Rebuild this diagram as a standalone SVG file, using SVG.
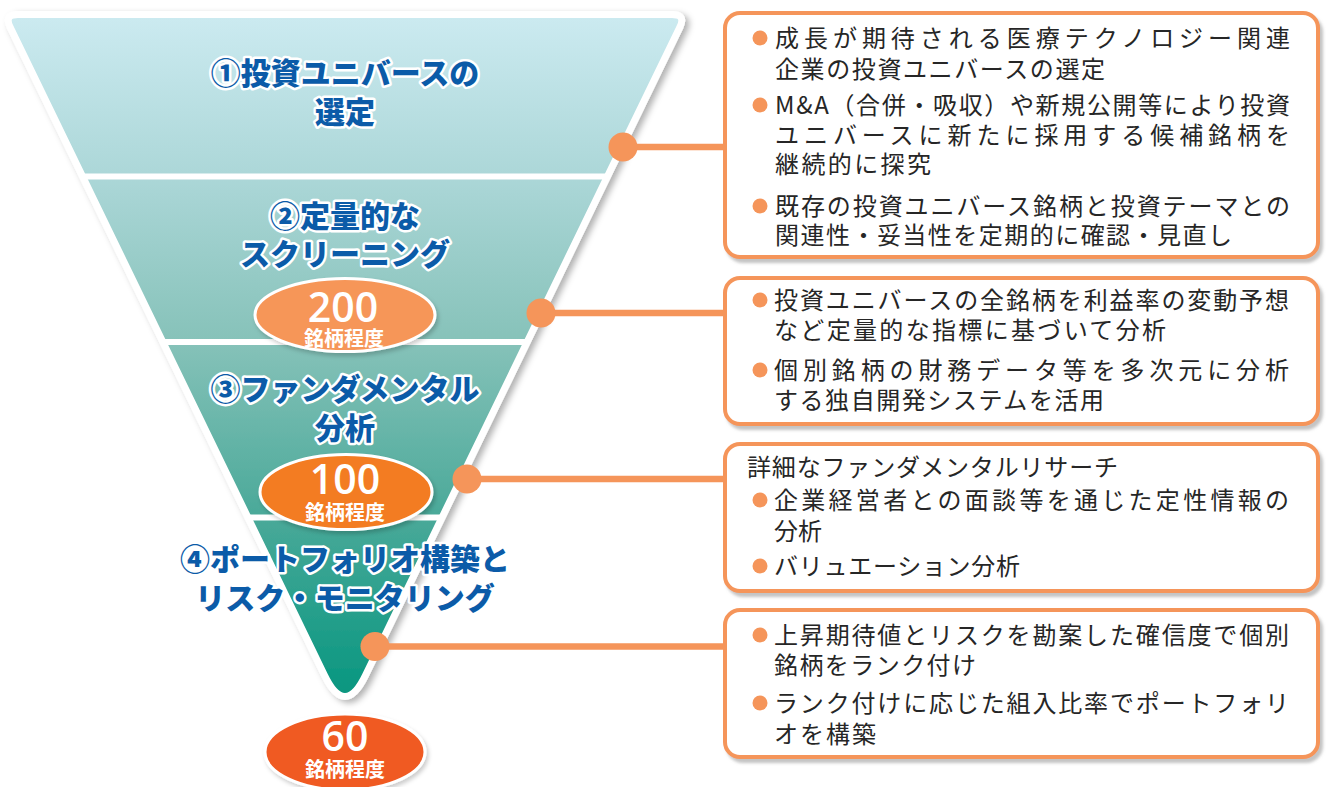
<svg xmlns="http://www.w3.org/2000/svg" width="1328" height="787" viewBox="0 0 1328 787">
<defs>
<linearGradient id="fg" gradientUnits="userSpaceOnUse" x1="0" y1="18" x2="0" y2="700">
<stop offset="0" stop-color="#cbeaf0"/>
<stop offset="0.23" stop-color="#acd7d8"/>
<stop offset="0.475" stop-color="#86c2b9"/>
<stop offset="0.73" stop-color="#4aa999"/>
<stop offset="1" stop-color="#06967f"/>
</linearGradient>
<filter id="sh" x="-10%" y="-10%" width="130%" height="130%">
<feDropShadow dx="4" dy="3" stdDeviation="3" flood-color="#000" flood-opacity="0.3"/>
</filter>
<filter id="bsh" x="-5%" y="-5%" width="115%" height="120%">
<feDropShadow dx="3" dy="4" stdDeviation="1.5" flood-color="#888" flood-opacity="0.5"/>
</filter>
<filter id="osh" x="-10%" y="-10%" width="130%" height="140%">
<feDropShadow dx="2" dy="3" stdDeviation="2" flood-color="#000" flood-opacity="0.2"/>
</filter>
<clipPath id="fc">
<path d="M 18 14.5 L 672 14.5 Q 686 14.5 679.9 27.1 L 365.4 675.5 Q 345 717.5 324.6 675.5 L 10.1 27.1 Q 4 14.5 18 14.5 Z"/>
</clipPath>
<style>
.ft{font-family:"Noto Sans CJK JP","Noto Sans CJK SC",sans-serif;font-weight:900;font-size:30px;fill:#0b5ba8;stroke:#fff;stroke-width:5px;stroke-linejoin:round;paint-order:stroke;text-anchor:middle}
.num{font-family:"Open Sans","Noto Sans",sans-serif;font-weight:600;font-size:41px;fill:#fff;text-anchor:middle}
.unit{font-family:"Noto Sans CJK JP","Noto Sans CJK SC",sans-serif;font-weight:700;font-size:20px;fill:#fff;text-anchor:middle}
.box{fill:#fff;stroke:#f5955a;stroke-width:4}
.bt{font-family:"Noto Sans CJK JP","Noto Sans CJK SC",sans-serif;font-size:24px;fill:#262626}
.bul{fill:#f5955a}
.con{stroke:#f5955a;stroke-width:6.5}
.dot{fill:#f5955a}
.oval{stroke:#fff;stroke-width:3}
.sep{stroke:#fff;stroke-width:6}
</style>
</defs>

<g id="funnel">
<path d="M 18 14.5 L 672 14.5 Q 686 14.5 679.9 27.1 L 365.4 675.5 Q 345 717.5 324.6 675.5 L 10.1 27.1 Q 4 14.5 18 14.5 Z" fill="url(#fg)" stroke="#fff" stroke-width="7" filter="url(#sh)"/>
<g clip-path="url(#fc)">
<line class="sep" x1="0" y1="176.5" x2="700" y2="176.5"/>
<line class="sep" x1="0" y1="342" x2="700" y2="342"/>
<line class="sep" x1="0" y1="517.5" x2="700" y2="517.5"/>
</g>
</g>

<g id="stage1">
<text class="ft" x="345" y="83.5">①投資ユニバースの</text>
<text class="ft" x="345" y="122.5">選定</text>
</g>
<g id="stage2">
<text class="ft" x="345" y="226.5">②定量的な</text>
<text class="ft" x="345" y="264.5">スクリーニング</text>
</g>
<g id="count200">
<ellipse class="oval" cx="345" cy="315" rx="90" ry="36.5" fill="#f69659" filter="url(#osh)"/>
<text class="num" x="343" y="322">200</text>
<text class="unit" x="344" y="346">銘柄程度</text>
</g>
<g id="stage3">
<text class="ft" x="345" y="399.5">③ファンダメンタル</text>
<text class="ft" x="345" y="438.5">分析</text>
</g>
<g id="count100">
<ellipse class="oval" cx="346" cy="492" rx="86" ry="37.5" fill="#f37b21" filter="url(#osh)"/>
<text class="num" x="345" y="494">100</text>
<text class="unit" x="345" y="519.5">銘柄程度</text>
</g>
<g id="stage4">
<text class="ft" x="345" y="569.5">④ポートフォリオ構築と</text>
<text class="ft" x="345" y="609">リスク・モニタリング</text>
</g>
<g id="count60">
<ellipse class="oval" cx="345" cy="752" rx="80" ry="38" fill="#f05a22" filter="url(#osh)"/>
<text class="num" x="345" y="751">60</text>
<text class="unit" x="345" y="777">銘柄程度</text>
</g>

<g id="connectors">
<line class="con" x1="623" y1="147" x2="726" y2="147"/>
<line class="con" x1="541" y1="313" x2="726" y2="313"/>
<line class="con" x1="467" y1="479" x2="726" y2="479"/>
<line class="con" x1="375" y1="646.5" x2="726" y2="646.5"/>
<circle class="dot" cx="623" cy="147" r="14.5"/>
<circle class="dot" cx="541" cy="313" r="14.5"/>
<circle class="dot" cx="467" cy="479" r="14.5"/>
<circle class="dot" cx="375" cy="646.5" r="14.5"/>
</g>

<g id="box1">
<rect class="box" x="725" y="13" width="593" height="244" rx="15" filter="url(#bsh)"/>
<circle class="bul" cx="760" cy="38" r="7.5"/>
<text class="bt" x="775" y="47" textLength="515" lengthAdjust="spacing">成長が期待される医療テクノロジー関連</text>
<text class="bt" x="775" y="77.5" textLength="330" lengthAdjust="spacing">企業の投資ユニバースの選定</text>
<circle class="bul" cx="760" cy="105" r="7.5"/>
<text class="bt" x="775" y="114" textLength="515" lengthAdjust="spacing">M&amp;A（合併・吸収）や新規公開等により投資</text>
<text class="bt" x="775" y="144" textLength="515" lengthAdjust="spacing">ユニバースに新たに採用する候補銘柄を</text>
<text class="bt" x="775" y="173" textLength="156" lengthAdjust="spacing">継続的に探究</text>
<circle class="bul" cx="760" cy="206" r="7.5"/>
<text class="bt" x="775" y="215" textLength="515" lengthAdjust="spacing">既存の投資ユニバース銘柄と投資テーマとの</text>
<text class="bt" x="775" y="244" textLength="457" lengthAdjust="spacing">関連性・妥当性を定期的に確認・見直し</text>
</g>

<g id="box2">
<rect class="box" x="725" y="278" width="593" height="146" rx="15" filter="url(#bsh)"/>
<circle class="bul" cx="760" cy="300" r="7.5"/>
<text class="bt" x="774" y="309" textLength="515" lengthAdjust="spacing">投資ユニバースの全銘柄を利益率の変動予想</text>
<text class="bt" x="774" y="339" textLength="392" lengthAdjust="spacing">など定量的な指標に基づいて分析</text>
<circle class="bul" cx="760" cy="370" r="7.5"/>
<text class="bt" x="774" y="379" textLength="515" lengthAdjust="spacing">個別銘柄の財務データ等を多次元に分析</text>
<text class="bt" x="774" y="409" textLength="330" lengthAdjust="spacing">する独自開発システムを活用</text>
</g>

<g id="box3">
<rect class="box" x="725" y="444" width="593" height="147" rx="15" filter="url(#bsh)"/>
<text class="bt" x="747" y="476" textLength="371" lengthAdjust="spacing">詳細なファンダメンタルリサーチ</text>
<circle class="bul" cx="760" cy="500" r="7.5"/>
<text class="bt" x="774" y="509" textLength="515" lengthAdjust="spacing">企業経営者との面談等を通じた定性情報の</text>
<text class="bt" x="774" y="540">分析</text>
<circle class="bul" cx="760" cy="566" r="7.5"/>
<text class="bt" x="774" y="575" textLength="246" lengthAdjust="spacing">バリュエーション分析</text>
</g>

<g id="box4">
<rect class="box" x="725" y="610" width="593" height="147" rx="15" filter="url(#bsh)"/>
<circle class="bul" cx="760" cy="635" r="7.5"/>
<text class="bt" x="774" y="644" textLength="515" lengthAdjust="spacing">上昇期待値とリスクを勘案した確信度で個別</text>
<text class="bt" x="774" y="674" textLength="202" lengthAdjust="spacing">銘柄をランク付け</text>
<circle class="bul" cx="760" cy="703" r="7.5"/>
<text class="bt" x="774" y="712" textLength="515" lengthAdjust="spacing">ランク付けに応じた組入比率でポートフォリ</text>
<text class="bt" x="774" y="743" textLength="102" lengthAdjust="spacing">オを構築</text>
</g>
</svg>
